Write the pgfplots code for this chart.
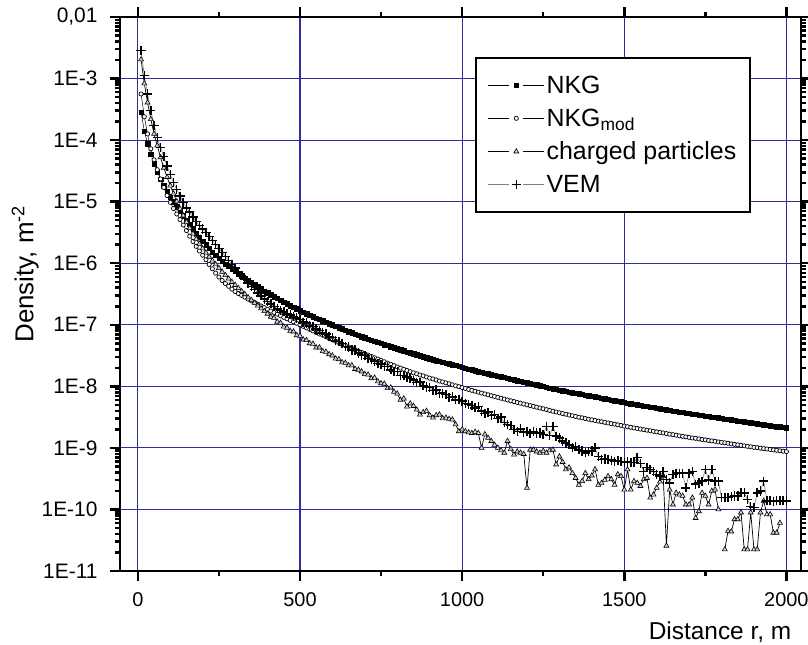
\documentclass[border=0pt]{standalone}
\usepackage{fontspec}
\setmainfont{Liberation Sans}
\usepackage{pgfplots}
\usepackage{pgfplotstable}
\pgfplotsset{compat=1.18}
\definecolor{gridblue}{RGB}{45,45,160}
\pgfplotstableread{
r nkg nkgm ch vem
10 2.82e-4 5.62e-4 2.04e-3 2.88e-3
20 1.41e-4 2.40e-4 8.32e-4 1.12e-3
30 8.71e-5 1.26e-4 4.07e-4 5.62e-4
40 5.89e-5 7.24e-5 2.19e-4 3.02e-4
50 4.17e-5 4.79e-5 1.26e-4 1.74e-4
60 3.09e-5 3.31e-5 8.13e-5 1.10e-4
70 2.34e-5 2.34e-5 5.25e-5 7.59e-5
80 1.82e-5 1.70e-5 3.55e-5 5.37e-5
90 1.48e-5 1.26e-5 2.51e-5 3.80e-5
100 1.20e-5 9.77e-6 1.82e-5 2.75e-5
110 1.00e-5 7.76e-6 1.35e-5 2.04e-5
120 8.32e-6 6.31e-6 1.01e-5 1.58e-5
130 7.00e-6 5.13e-6 7.67e-6 1.23e-5
140 5.89e-6 4.17e-6 5.96e-6 9.77e-6
150 5.01e-6 3.39e-6 4.68e-6 7.94e-6
160 4.27e-6 2.75e-6 3.72e-6 6.76e-6
170 3.63e-6 2.26e-6 3.02e-6 5.62e-6
180 3.09e-6 1.88e-6 2.48e-6 4.79e-6
190 2.66e-6 1.58e-6 2.07e-6 4.07e-6
200 2.29e-6 1.35e-6 1.74e-6 3.59e-6
210 2.00e-6 1.14e-6 1.48e-6 3.16e-6
220 1.74e-6 9.55e-7 1.27e-6 2.72e-6
230 1.53e-6 8.13e-7 1.10e-6 2.34e-6
240 1.35e-6 6.92e-7 9.55e-7 2.02e-6
250 1.20e-6 5.96e-7 8.32e-7 1.74e-6
260 1.08e-6 5.25e-7 7.24e-7 1.50e-6
270 9.77e-7 4.68e-7 6.38e-7 1.29e-6
280 8.91e-7 4.22e-7 5.62e-7 1.11e-6
290 8.13e-7 3.80e-7 4.95e-7 9.55e-7
300 7.41e-7 3.47e-7 4.42e-7 8.32e-7
310 6.76e-7 3.22e-7 3.94e-7 7.24e-7
320 6.24e-7 3.01e-7 3.51e-7 6.31e-7
330 5.75e-7 2.81e-7 3.13e-7 5.50e-7
340 5.31e-7 2.62e-7 2.79e-7 4.79e-7
350 4.90e-7 2.45e-7 2.51e-7 4.17e-7
360 4.52e-7 2.30e-7 2.26e-7 3.72e-7
370 4.17e-7 2.16e-7 2.04e-7 3.31e-7
380 3.85e-7 2.02e-7 1.84e-7 2.95e-7
390 3.55e-7 1.90e-7 1.66e-7 2.63e-7
400 3.31e-7 1.78e-7 1.51e-7 2.40e-7
410 3.09e-7 1.67e-7 1.35e-7 2.19e-7
420 2.88e-7 1.58e-7 1.29e-7 2.00e-7
430 2.69e-7 1.49e-7 1.12e-7 1.82e-7
440 2.51e-7 1.40e-7 1.07e-7 1.70e-7
450 2.34e-7 1.32e-7 9.33e-8 1.62e-7
460 2.19e-7 1.25e-7 8.91e-8 1.51e-7
470 2.04e-7 1.18e-7 7.94e-8 1.45e-7
480 1.93e-7 1.12e-7 7.76e-8 1.35e-7
490 1.82e-7 1.06e-7 6.76e-8 1.29e-7
500 1.70e-7 1.00e-7 6.61e-8 1.22e-7
510 1.60e-7 9.44e-8 5.75e-8 1.10e-7
520 1.51e-7 8.91e-8 5.62e-8 1.07e-7
530 1.43e-7 8.41e-8 5.01e-8 9.55e-8
540 1.36e-7 7.94e-8 4.90e-8 9.33e-8
550 1.29e-7 7.50e-8 4.27e-8 8.51e-8
560 1.23e-7 7.08e-8 4.27e-8 8.13e-8
570 1.16e-7 6.76e-8 3.72e-8 7.41e-8
580 1.11e-7 6.38e-8 3.63e-8 7.08e-8
590 1.05e-7 6.03e-8 3.31e-8 6.46e-8
600 1.00e-7 5.69e-8 3.16e-8 6.17e-8
610 9.55e-8 5.40e-8 2.82e-8 5.50e-8
620 9.02e-8 5.12e-8 2.75e-8 5.37e-8
630 8.61e-8 4.85e-8 2.45e-8 5.01e-8
640 8.13e-8 4.60e-8 2.40e-8 4.47e-8
650 7.76e-8 4.37e-8 2.19e-8 4.37e-8
660 7.41e-8 4.15e-8 2.19e-8 3.89e-8
670 7.08e-8 3.94e-8 1.91e-8 3.89e-8
680 6.76e-8 3.75e-8 1.86e-8 3.47e-8
690 6.46e-8 3.56e-8 1.74e-8 3.24e-8
700 6.17e-8 3.39e-8 1.58e-8 3.16e-8
710 5.89e-8 3.22e-8 1.55e-8 2.82e-8
720 5.69e-8 3.06e-8 1.35e-8 2.75e-8
730 5.43e-8 2.91e-8 1.38e-8 2.57e-8
740 5.25e-8 2.77e-8 1.20e-8 2.34e-8
750 5.01e-8 2.63e-8 1.12e-8 2.29e-8
760 4.79e-8 2.51e-8 1.10e-8 2.09e-8
770 4.62e-8 2.39e-8 9.33e-9 2.09e-8
780 4.42e-8 2.28e-8 9.55e-9 1.86e-8
790 4.27e-8 2.17e-8 8.13e-9 1.74e-8
800 4.07e-8 2.07e-8 7.59e-9 1.74e-8
810 3.94e-8 1.98e-8 6.03e-9 1.51e-8
820 3.80e-8 1.89e-8 6.31e-9 1.51e-8
830 3.63e-8 1.81e-8 4.68e-9 1.41e-8
840 3.51e-8 1.73e-8 5.25e-9 1.35e-8
850 3.39e-8 1.66e-8 4.79e-9 1.26e-8
860 3.27e-8 1.60e-8 4.17e-9 1.15e-8
870 3.16e-8 1.53e-8 3.47e-9 1.17e-8
880 3.02e-8 1.48e-8 3.80e-9 1.02e-8
890 2.92e-8 1.42e-8 3.98e-9 9.77e-9
900 2.82e-8 1.36e-8 3.39e-9 9.55e-9
910 2.72e-8 1.32e-8 3.09e-9 8.51e-9
920 2.63e-8 1.27e-8 3.39e-9 8.71e-9
930 2.57e-8 1.22e-8 3.47e-9 7.59e-9
940 2.48e-8 1.18e-8 3.02e-9 7.76e-9
950 2.40e-8 1.14e-8 3.09e-9 7.41e-9
960 2.32e-8 1.10e-8 2.95e-9 6.61e-9
970 2.24e-8 1.06e-8 2.88e-9 6.76e-9
980 2.19e-8 1.02e-8 2.40e-9 6.03e-9
990 2.11e-8 9.89e-9 1.86e-9 6.17e-9
1000 2.04e-8 9.55e-9 2.00e-9 5.75e-9
1010 1.97e-8 9.23e-9 1.86e-9 5.25e-9
1020 1.91e-8 8.91e-9 1.78e-9 5.13e-9
1030 1.86e-8 8.61e-9 1.74e-9 4.90e-9
1040 1.80e-8 8.32e-9 1.82e-9 4.47e-9
1050 1.74e-8 8.04e-9 1.74e-9 4.68e-9
1060 1.70e-8 7.78e-9 1.00e-9 3.98e-9
1070 1.64e-8 7.53e-9 1.66e-9 3.63e-9
1080 1.60e-8 7.29e-9 1.45e-9 3.80e-9
1090 1.55e-8 7.06e-9 1.29e-9 3.39e-9
1100 1.51e-8 6.84e-9 1.12e-9 3.47e-9
1110 1.48e-8 6.62e-9 1.00e-9 3.02e-9
1120 1.43e-8 6.41e-9 9.12e-10 3.16e-9
1130 1.40e-8 6.21e-9 8.32e-10 2.57e-9
1140 1.35e-8 6.01e-9 1.29e-9 2.40e-9
1150 1.32e-8 5.82e-9 9.55e-10 2.29e-9
1160 1.29e-8 5.65e-9 7.76e-10 2.00e-9
1170 1.24e-8 5.48e-9 8.71e-10 1.86e-9
1180 1.22e-8 5.32e-9 8.32e-10 2.04e-9
1190 1.17e-8 5.16e-9 7.94e-10 1.78e-9
1200 1.15e-8 5.01e-9 2.24e-10 1.82e-9
1210 1.12e-8 4.86e-9 9.33e-10 1.70e-9
1220 1.08e-8 4.72e-9 9.33e-10 1.86e-9
1230 1.06e-8 4.58e-9 8.71e-10 1.74e-9
1240 1.02e-8 4.45e-9 8.32e-10 1.74e-9
1250 1.00e-8 4.32e-9 8.91e-10 1.66e-9
1260 9.77e-9 4.19e-9 8.32e-10 2.24e-9
1270 9.44e-9 4.06e-9 9.12e-10 1.58e-9
1280 9.23e-9 3.94e-9 9.33e-10 2.24e-9
1290 8.91e-9 3.83e-9 5.37e-10 1.55e-9
1300 8.71e-9 3.72e-9 7.24e-10 1.45e-9
1310 8.51e-9 3.61e-9 5.89e-10 1.29e-9
1320 8.32e-9 3.52e-9 4.47e-10 1.20e-9
1330 8.13e-9 3.42e-9 4.79e-10 1.12e-9
1340 7.94e-9 3.33e-9 3.89e-10 1.00e-9
1350 7.76e-9 3.24e-9 3.24e-10 1.05e-9
1360 7.59e-9 3.15e-9 2.51e-10 9.33e-10
1370 7.41e-9 3.08e-9 2.88e-10 8.91e-10
1380 7.24e-9 3.00e-9 3.89e-10 8.32e-10
1390 7.08e-9 2.92e-9 3.09e-10 8.71e-10
1400 6.92e-9 2.85e-9 3.55e-10 8.91e-10
1410 6.76e-9 2.79e-9 4.47e-10 1.00e-9
1420 6.61e-9 2.72e-9 2.51e-10 7.24e-10
1430 6.46e-9 2.66e-9 2.69e-10 6.46e-10
1440 6.31e-9 2.60e-9 3.02e-10 6.61e-10
1450 6.17e-9 2.54e-9 3.47e-10 6.46e-10
1460 6.03e-9 2.48e-9 3.09e-10 6.31e-10
1470 5.89e-9 2.43e-9 2.51e-10 6.03e-10
1480 5.75e-9 2.37e-9 3.72e-10 6.17e-10
1490 5.62e-9 2.32e-9 3.47e-10 6.03e-10
1500 5.50e-9 2.26e-9 2.09e-10 5.75e-10
1510 5.37e-9 2.21e-9 4.47e-10 5.89e-10
1520 5.25e-9 2.16e-9 2.09e-10 5.75e-10
1530 5.13e-9 2.11e-9 2.88e-10 5.75e-10
1540 5.01e-9 2.07e-9 2.69e-10 6.92e-10
1550 4.90e-9 2.02e-9 2.40e-10 5.62e-10
1560 4.81e-9 1.98e-9 3.09e-10 4.17e-10
1570 4.72e-9 1.94e-9 3.24e-10 4.79e-10
1580 4.63e-9 1.90e-9 1.55e-10 4.47e-10
1590 4.55e-9 1.86e-9 1.74e-10 4.17e-10
1600 4.47e-9 1.82e-9 2.24e-10 3.72e-10
1610 4.37e-9 1.78e-9 2.82e-10 3.47e-10
1620 4.27e-9 1.75e-9 3.47e-10 4.17e-10
1630 4.17e-9 1.71e-9 2.57e-11 3.09e-10
1640 4.07e-9 1.67e-9 2.09e-10 2.69e-10
1650 3.98e-9 1.64e-9 1.20e-10 3.72e-10
1660 3.91e-9 1.61e-9 1.86e-10 3.89e-10
1670 3.84e-9 1.57e-9 1.74e-10 3.89e-10
1680 3.77e-9 1.54e-9 1.66e-10 3.89e-10
1690 3.70e-9 1.51e-9 1.20e-10 2.24e-10
1700 3.63e-9 1.48e-9 1.20e-10 3.89e-10
1710 3.56e-9 1.45e-9 1.55e-10 4.17e-10
1720 3.50e-9 1.43e-9 7.24e-11 2.57e-10
1730 3.44e-9 1.40e-9 9.33e-11 2.69e-10
1740 3.37e-9 1.37e-9 1.86e-10 2.88e-10
1750 3.31e-9 1.35e-9 1.66e-10 4.47e-10
1760 3.25e-9 1.32e-9 1.20e-10 3.02e-10
1770 3.19e-9 1.30e-9 2.00e-10 4.47e-10
1780 3.13e-9 1.28e-9 2.09e-10 2.88e-10
1790 3.08e-9 1.25e-9 1.00e-10 2.88e-10
1800 3.02e-9 1.23e-9 nan 1.55e-10
1810 2.96e-9 1.21e-9 2.24e-11 1.55e-10
1820 2.91e-9 1.19e-9 4.47e-11 1.55e-10
1830 2.86e-9 1.16e-9 4.37e-11 1.62e-10
1840 2.81e-9 1.14e-9 6.92e-11 1.66e-10
1850 2.75e-9 1.12e-9 6.92e-11 1.66e-10
1860 2.70e-9 1.10e-9 8.91e-11 1.86e-10
1870 2.65e-9 1.08e-9 2.24e-11 1.86e-10
1880 2.61e-9 1.06e-9 2.24e-11 1.45e-10
1890 2.56e-9 1.04e-9 8.91e-11 1.12e-10
1900 2.51e-9 1.02e-9 2.24e-11 1.07e-10
1910 2.47e-9 1.01e-9 2.24e-11 1.86e-10
1920 2.42e-9 9.91e-10 8.91e-11 2.00e-10
1930 2.38e-9 9.75e-10 1.38e-10 2.88e-10
1940 2.33e-9 9.59e-10 8.32e-11 1.38e-10
1950 2.29e-9 9.44e-10 8.32e-11 1.38e-10
1960 2.26e-9 9.29e-10 4.17e-11 1.35e-10
1970 2.23e-9 9.14e-10 4.17e-11 1.38e-10
1980 2.20e-9 8.99e-10 6.03e-11 1.38e-10
1990 2.17e-9 8.85e-10 nan 1.38e-10
2000 2.14e-9 8.71e-10 nan 1.38e-10
}\datatab

\begin{document}
\begin{tikzpicture}
\useasboundingbox (-120bp,-74bp) rectangle (688bp,571bp);
\begin{axis}[
  scale only axis, width=681bp, height=554bp,
  xmin=-55, xmax=2045,
  ymode=log, ymin=1e-11, ymax=1e-2,
  xtick={0,500,1000,1500,2000},
  xticklabels={0,500,1000,1500,2000},
  minor xtick={250,750,1250,1750},
  ytick={1e-11,1e-10,1e-9,1e-8,1e-7,1e-6,1e-5,1e-4,1e-3,1e-2},
  yticklabels={1E-11,1E-10,1E-9,1E-8,1E-7,1E-6,1E-5,1E-4,1E-3,{0,01}},
  grid=major,
  major grid style={gridblue, line width=1.2bp},
  axis line style={line width=2.5bp},
  tick align=outside,
  major tick length=10bp, minor tick length=5bp,
  tick style={black, line width=2.5bp},
  yticklabel style={font=\fontsize{21}{25}\selectfont, xshift=-9bp},
  xticklabel style={font=\fontsize{20}{24}\selectfont, yshift=-8bp},
  xlabel={Distance r, m},
  ylabel={Density, m\textsuperscript{-2}},
  xlabel style={at={(axis description cs:0.986,-0.0915)}, anchor=north east, inner sep=0pt, font=\fontsize{24.5}{29}\selectfont},
  ylabel style={at={(axis description cs:-0.1190,0.536)}, anchor=south, inner sep=0pt, font=\fontsize{26}{30}\selectfont},
  unbounded coords=jump,
  legend cell align=left,
  legend style={at={(axis description cs:0.5213,0.9278)}, anchor=north west,
    draw=black, line width=2bp, fill=white,
    font=\fontsize{25}{30}\selectfont,
    inner xsep=12bp, inner ysep=16bp, row sep=10bp,
    /tikz/every even column/.append style={column sep=7bp}},
  legend image code/.code={
    \draw[#1, mark=none, line width=0.6bp] (0bp,0bp) -- (21bp,0bp);
    \draw[#1, mark=none, line width=0.6bp] (35bp,0bp) -- (56bp,0bp);
    \draw[#1] plot coordinates {(28bp,0bp)};
  },
]
\addplot[black, line width=0.5bp, mark=square*, mark size=2.2bp, mark options={solid, fill=black, line width=0.3bp}] table[x=r, y=nkg] {\datatab};
\addplot[black, line width=0.5bp, mark=*, mark size=2.1bp, mark options={solid, fill=white, line width=0.7bp}] table[x=r, y=nkgm] {\datatab};
\addplot[black, line width=0.7bp, mark=triangle*, mark size=2.9bp, mark options={solid, fill=gray!35, line width=0.6bp}] table[x=r, y=ch] {\datatab};
\addplot[gray, line width=0.6bp, mark=+, mark size=4.6bp, mark options={solid, black, line width=1.5bp}] table[x=r, y=vem] {\datatab};
\legend{NKG, NKG\textsubscript{mod}, charged particles, VEM}
\end{axis}
\end{tikzpicture}
\end{document}
